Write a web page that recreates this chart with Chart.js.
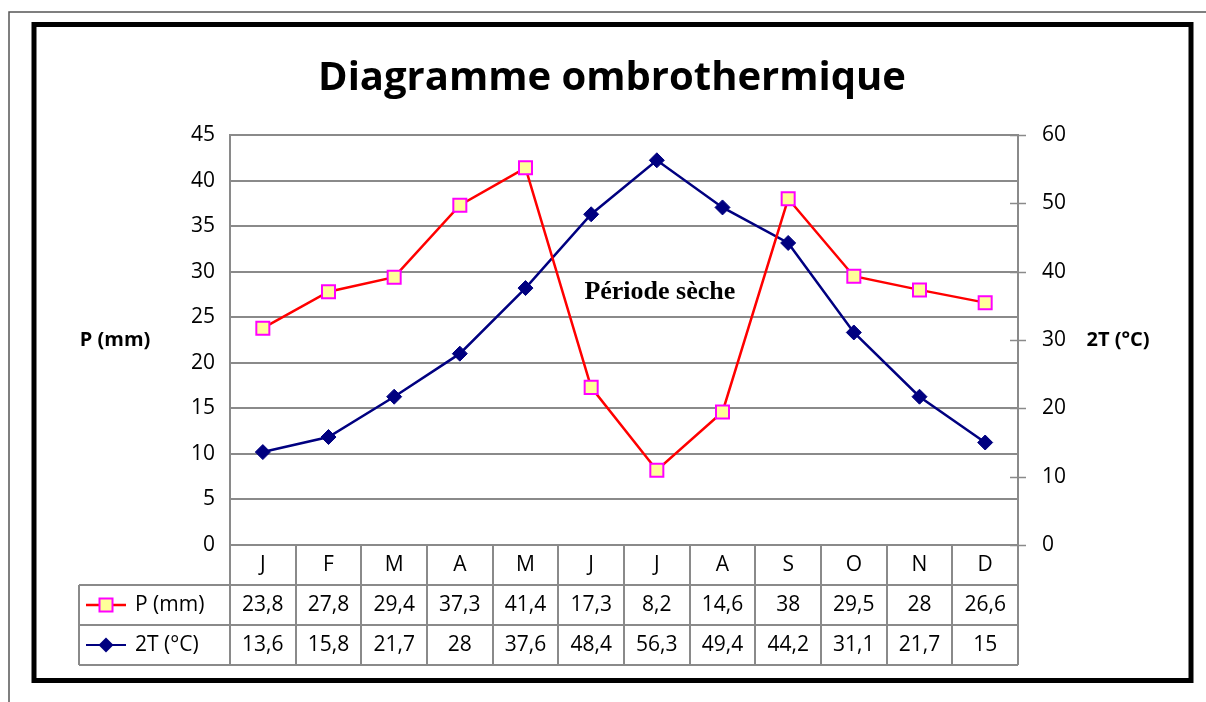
<!DOCTYPE html>
<html>
<head>
<meta charset="utf-8">
<script src="https://cdn.jsdelivr.net/npm/chart.js@4/dist/chart.umd.min.js"></script>
<style>
  html, body { margin: 0; padding: 0; background: #fff; }
  #wrap { position: relative; width: 1206px; height: 702px; }
</style>
</head>
<body>
<div id="wrap"><canvas id="graf" width="1206" height="702"></canvas></div>
<script>
const mois = ['J', 'F', 'M', 'A', 'M', 'J', 'J', 'A', 'S', 'O', 'N', 'D'];
const pluie = [23.8, 27.8, 29.4, 37.3, 41.4, 17.3, 8.2, 14.6, 38, 29.5, 28, 26.6];
const temp2 = [13.6, 15.8, 21.7, 28, 37.6, 48.4, 56.3, 49.4, 44.2, 31.1, 21.7, 15];
const ticksP = [0, 5, 10, 15, 20, 25, 30, 35, 40, 45];
const ticksT = [0, 10, 20, 30, 40, 50, 60];

const titre = 'Diagramme ombrothermique';
const nomP = 'P (mm)';
const nomT = '2T (°C)';
const texteSec = 'Période sèche';

const police = '"Open Sans", "Liberation Sans", sans-serif';
const gris = '#8a8a8a';

function virgule(v) {
    return String(v).replace('.', ',');
}

function marqueP(ctx, x, y) {
    ctx.fillStyle = '#ffff99';
    ctx.strokeStyle = '#ff00ff';
    ctx.lineWidth = 2;
    ctx.fillRect(x - 6.5, y - 6.5, 13, 13);
    ctx.strokeRect(x - 6.5, y - 6.5, 13, 13);
}

function marqueT(ctx, x, y) {
    ctx.fillStyle = '#000080';
    ctx.beginPath();
    ctx.moveTo(x - 7.5, y);
    ctx.lineTo(x, y - 7.5);
    ctx.lineTo(x + 7.5, y);
    ctx.lineTo(x, y + 7.5);
    ctx.closePath();
    ctx.fill();
}

// cadres, titre, textes et tableau de donnees
const habillage = {
    id: 'habillage',
    afterDraw(chart) {
        const ctx = chart.ctx;
        const x = chart.scales.x;
        const yT = chart.scales.yT;
        const area = chart.chartArea;
        ctx.save();

        // cadre fin exterieur
        ctx.strokeStyle = '#555';
        ctx.lineWidth = 1.5;
        ctx.beginPath();
        ctx.moveTo(9, 702);
        ctx.lineTo(9, 12);
        ctx.lineTo(1206, 12);
        ctx.stroke();

        // cadre epais
        ctx.strokeStyle = '#000';
        ctx.lineWidth = 5;
        ctx.strokeRect(34, 24.5, 1157, 656);

        // titre
        ctx.fillStyle = '#000';
        ctx.font = 'bold 40px ' + police;
        ctx.textAlign = 'center';
        ctx.textBaseline = 'middle';
        ctx.fillText(titre, 612, 79);

        // titres des axes
        ctx.font = 'bold 20px ' + police;
        ctx.fillText(nomP, 115, 340);
        ctx.fillText(nomT, 1118, 340);

        // periode seche
        ctx.font = 'bold 26px "Liberation Serif", "DejaVu Serif", serif';
        ctx.fillText(texteSec, x.getPixelForValue(6) + 3, chart.scales.yP.getPixelForValue(27.7));

        // graduations croisees de l'axe droit
        ctx.strokeStyle = gris;
        ctx.lineWidth = 1.5;
        ticksT.forEach(v => {
            const py = Math.round(yT.getPixelForValue(v)) + 0.5;
            ctx.beginPath();
            ctx.moveTo(area.right - 8, py);
            ctx.lineTo(area.right + 8, py);
            ctx.stroke();
        });

        // tableau
        const demi = (x.getPixelForValue(1) - x.getPixelForValue(0)) / 2;
        const h = 40;
        const y0 = area.bottom;
        const gauche = 79;
        ctx.strokeStyle = gris;
        ctx.lineWidth = 2;
        ctx.beginPath();
        for (let i = 0; i <= mois.length; i++) {
            const bx = Math.round(x.getPixelForValue(0) - demi + i * 2 * demi);
            ctx.moveTo(bx, y0);
            ctx.lineTo(bx, y0 + 3 * h);
        }
        ctx.moveTo(gauche, y0 + h);
        ctx.lineTo(gauche, y0 + 3 * h);
        for (let r = 1; r <= 3; r++) {
            ctx.moveTo(gauche, y0 + r * h);
            ctx.lineTo(area.right, y0 + r * h);
        }
        ctx.stroke();

        ctx.fillStyle = '#000';
        ctx.font = '21px ' + police;
        ctx.textAlign = 'center';
        ctx.textBaseline = 'middle';
        mois.forEach((m, i) => {
            const cx = x.getPixelForValue(i);
            ctx.fillText(m, cx, y0 + h / 2);
            ctx.fillText(virgule(pluie[i]), cx, y0 + h * 1.5);
            ctx.fillText(virgule(temp2[i]), cx, y0 + h * 2.5);
        });

        // legendes dans le tableau
        const ly1 = y0 + h * 1.5;
        const ly2 = y0 + h * 2.5;
        ctx.lineWidth = 2.5;
        ctx.strokeStyle = '#ff0000';
        ctx.beginPath();
        ctx.moveTo(86, ly1);
        ctx.lineTo(126, ly1);
        ctx.stroke();
        marqueP(ctx, 106, ly1);
        ctx.strokeStyle = '#000080';
        ctx.beginPath();
        ctx.moveTo(86, ly2);
        ctx.lineTo(126, ly2);
        ctx.stroke();
        marqueT(ctx, 106, ly2);

        ctx.fillStyle = '#000';
        ctx.textAlign = 'left';
        ctx.font = '21px ' + police;
        ctx.fillText(nomP, 135, ly1);
        ctx.fillText(nomT, 135, ly2);

        ctx.restore();
    }
};

const data = {
    labels: mois,
    datasets: [{
        label: nomP,
        data: pluie,
        yAxisID: 'yP',
        borderColor: '#ff0000',
        borderWidth: 2.5,
        pointStyle: 'rect',
        pointRadius: 9.2,
        pointBackgroundColor: '#ffff99',
        pointBorderColor: '#ff00ff',
        pointBorderWidth: 2,
        tension: 0
    }, {
        label: nomT,
        data: temp2,
        yAxisID: 'yT',
        borderColor: '#000080',
        borderWidth: 2.5,
        pointStyle: 'rectRot',
        pointRadius: 7.5,
        pointBackgroundColor: '#000080',
        pointBorderColor: '#000080',
        pointBorderWidth: 1,
        tension: 0
    }]
};

const config = {
    type: 'line',
    data,
    options: {
        responsive: false,
        animation: false,
        layout: { padding: { top: 135, bottom: 157, left: 0, right: 0 } },
        plugins: {
            legend: { display: false },
            title: { display: false },
            tooltip: { enabled: false }
        },
        scales: {
            x: {
                display: false,
                offset: true
            },
            yP: {
                position: 'left',
                min: 0,
                max: 45,
                afterFit(s) { s.width = 230; },
                afterBuildTicks(s) { s.ticks = ticksP.map(v => ({ value: v })); },
                ticks: { color: '#000', padding: 15, font: { family: police, size: 21 } },
                grid: { color: gris, lineWidth: 2, drawTicks: false },
                border: { color: gris, width: 2 }
            },
            yT: {
                position: 'right',
                min: 0,
                max: 60,
                afterFit(s) { s.width = 188; },
                afterBuildTicks(s) { s.ticks = ticksT.map(v => ({ value: v })); },
                ticks: { color: '#000', padding: 24, font: { family: police, size: 21 } },
                grid: { drawOnChartArea: false, drawTicks: false },
                border: { color: gris, width: 2 }
            }
        }
    },
    plugins: [habillage]
};

new Chart(document.getElementById('graf'), config);
</script>
</body>
</html>
